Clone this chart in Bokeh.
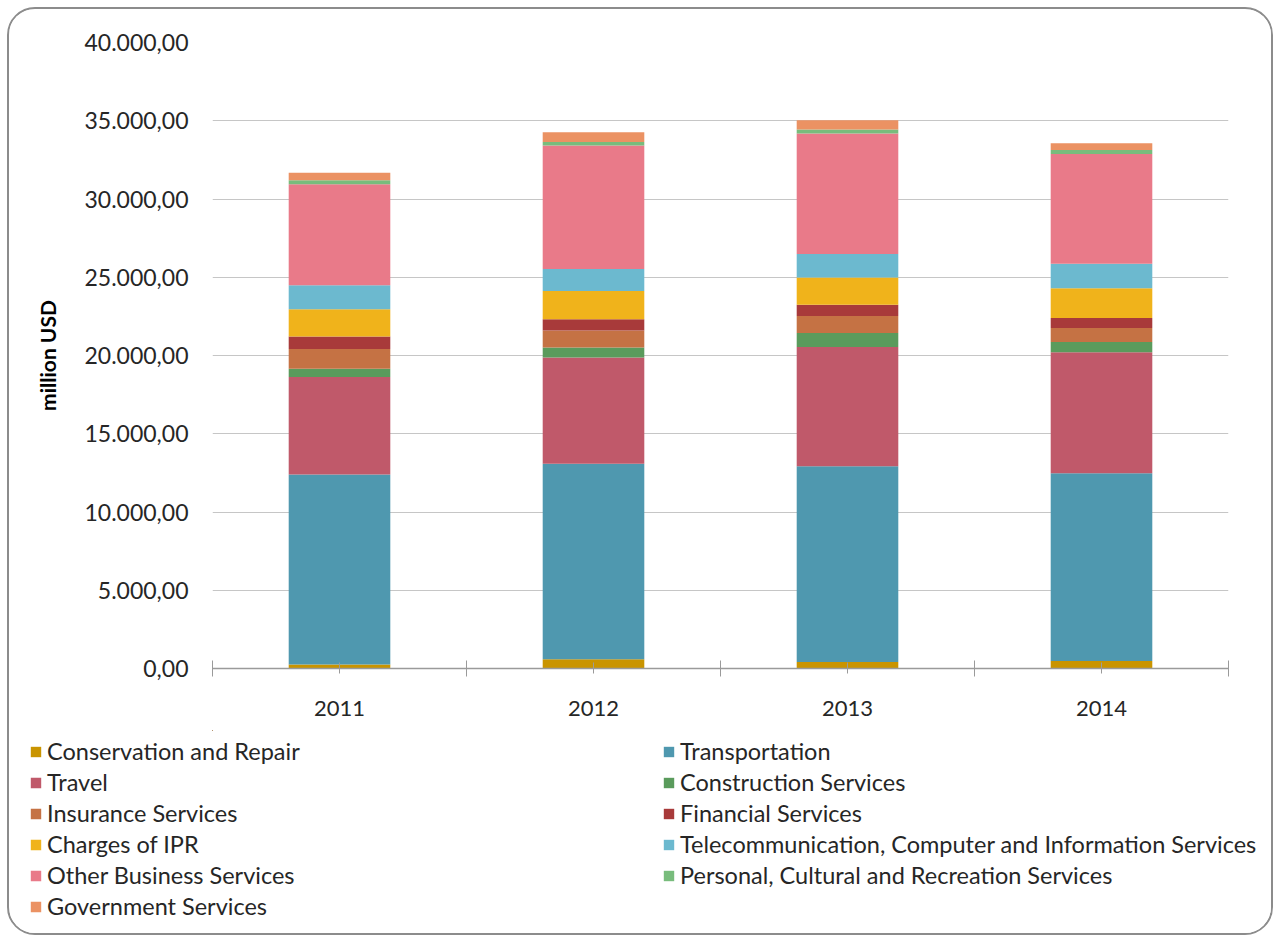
from bokeh.plotting import figure
from bokeh.layouts import column
from bokeh.models import (ColumnDataSource, FixedTicker, Range1d, Legend, LegendItem)
from bokeh.embed import file_html
from bokeh.resources import INLINE

years = ["2011", "2012", "2013", "2014"]
categories = [
    "Conservation and Repair", "Transportation", "Travel", "Construction Services",
    "Insurance Services", "Financial Services", "Charges of IPR",
    "Telecommunication, Computer and Information Services",
    "Other Business Services", "Personal, Cultural and Recreation Services",
    "Government Services",
]
conservation = [250, 590, 410, 480]
transportation = [12150, 12500, 12520, 11990]
travel = [6230, 6790, 7620, 7740]
construction = [530, 625, 890, 650]
insurance = [1260, 1090, 1085, 900]
financial = [790, 720, 720, 635]
ipr = [1745, 1810, 1745, 1905]
telecom = [1530, 1400, 1490, 1555]
other_business = [6460, 7900, 7710, 7020]
personal = [260, 210, 255, 255]
government = [470, 625, 580, 440]

series = [conservation, transportation, travel, construction, insurance, financial,
          ipr, telecom, other_business, personal, government]
colors = ["#C99400", "#4F98AF", "#C0596A", "#5A9B5C", "#C57244", "#A83A3A",
          "#F0B31B", "#6CB9CF", "#E97A89", "#78BC7C", "#EB9263"]

y_ticks = [0, 5000, 10000, 15000, 20000, 25000, 30000, 35000, 40000]
y_tick_labels = ["0,00", "5.000,00", "10.000,00", "15.000,00", "20.000,00",
                 "25.000,00", "30.000,00", "35.000,00", "40.000,00"]

x_pos = [i + 0.5 for i in range(len(years))]
keys = [f"s{i}" for i in range(len(categories))]
data = {"x": x_pos}
for k, s in zip(keys, series):
    data[k] = s
source = ColumnDataSource(data)

FONT = "Lato"
TXT = "#262626"

p = figure(
    frame_width=1016, frame_height=626,
    min_border_left=203, min_border_right=43, min_border_top=33, min_border_bottom=62,
    x_range=Range1d(0, len(years)), y_range=Range1d(0, 40000),
    output_backend="svg", toolbar_location=None,
)
p.outline_line_color = None

renderers = p.vbar_stack(keys, x="x", width=0.4, source=source, color=colors,
                         line_color=None)

# axes
p.xaxis.ticker = FixedTicker(ticks=x_pos, minor_ticks=list(range(len(years) + 1)))
p.xaxis.major_label_overrides = {x: y for x, y in zip(x_pos, years)}
p.xaxis.axis_line_color = "#9a9a9a"
p.xaxis.axis_line_width = 1.5
p.xaxis.major_tick_line_color = "#9a9a9a"
p.xaxis.major_tick_in = 6
p.xaxis.major_tick_out = 5
p.xaxis.minor_tick_line_color = "#9a9a9a"
p.xaxis.minor_tick_in = 8
p.xaxis.minor_tick_out = 8
p.xaxis.major_label_text_font = FONT
p.xaxis.major_label_text_font_size = "22px"
p.xaxis.major_label_text_color = TXT
p.xaxis.major_label_standoff = 24

p.yaxis.ticker = FixedTicker(ticks=y_ticks)
p.yaxis.major_label_overrides = {t: l for t, l in zip(y_ticks, y_tick_labels)}
p.yaxis.axis_line_color = None
p.yaxis.major_tick_line_color = None
p.yaxis.minor_tick_line_color = None
p.yaxis.major_tick_out = 0
p.yaxis.major_label_standoff = 24
p.yaxis.major_label_text_font = FONT
p.yaxis.major_label_text_font_size = "23px"
p.yaxis.major_label_text_color = TXT
p.yaxis.axis_label = "million USD"
p.yaxis.axis_label_text_font = FONT
p.yaxis.axis_label_text_font_style = "bold"
p.yaxis.axis_label_text_font_size = "21px"
p.yaxis.axis_label_text_color = "#000000"
p.yaxis.axis_label_standoff = 21

p.xgrid.grid_line_color = None
p.ygrid.grid_line_color = "#c6c6c6"
p.ygrid.grid_line_width = 1

# legend panel (separate figure whose frame covers the legend area)
LEG_H = 203
p2 = figure(
    frame_width=1262, frame_height=LEG_H,
    min_border_left=0, min_border_right=0, min_border_top=0, min_border_bottom=0,
    x_range=Range1d(100, 101), y_range=Range1d(-2, -1),
    x_axis_location=None, y_axis_location=None,
    output_backend="svg", toolbar_location=None,
)
p2.outline_line_color = None
p2.grid.grid_line_color = None
leg_renderers = p2.vbar_stack(keys, x="x", width=0.4, source=source, color=colors,
                              line_color=None)

items = [LegendItem(label=c, renderers=[r]) for c, r in zip(categories, leg_renderers)]
legend = Legend(
    items=items, orientation="horizontal", ncols=2,
    location=(20, 13),
    glyph_width=13, glyph_height=13, label_standoff=5,
    label_width=612, label_height=25, spacing=3,
    padding=0, margin=0,
    background_fill_alpha=0, border_line_color=None,
    label_text_font=FONT, label_text_font_size="23.5px", label_text_color=TXT,
)
p2.add_layout(legend, "center")

layout = column(p, p2, spacing=0,
                styles={"margin-left": "7px", "margin-top": "7px",
                        "border": "2px solid #8c8c8c", "border-radius": "28px",
                        "overflow": "hidden", "background": "white"})

open("out.html", "w").write(file_html(layout, INLINE))
